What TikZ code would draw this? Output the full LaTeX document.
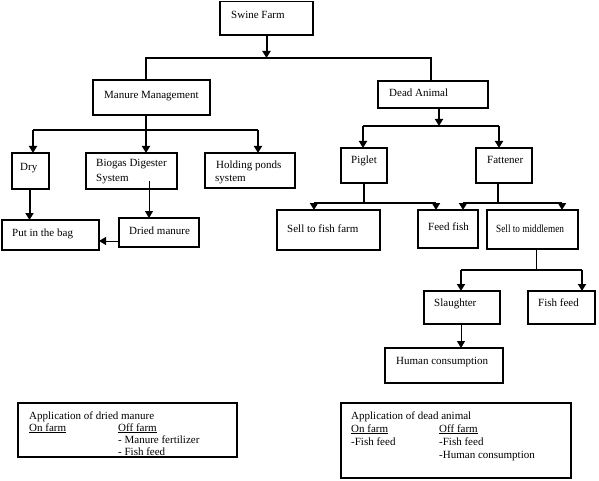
\documentclass[tikz,border=0pt]{standalone}
\usepackage{fontspec}
\setmainfont{Liberation Serif}
\usetikzlibrary{arrows.meta}
\tikzset{
  box/.style={draw, line width=1.6pt, inner sep=0pt, outer sep=0pt},
  txt/.style={inner sep=0pt, anchor=base west, font=\fontsize{11}{12}\selectfont},
  thk/.style={line width=2pt},
  thn/.style={line width=0.9pt},
  arr/.style={thk, -{Triangle[width=8pt,length=7pt]}},
  tarr/.style={thn, -{Triangle[width=8pt,length=7pt]}},
}
\newcommand{\mybox}[5]{\node[box,minimum width={#4-#2},minimum height={#5-#3}] (#1) at ({(#2+#4)/2},{(#3+#5)/2}) {};}
\begin{document}
\begin{tikzpicture}[x=1pt,y=-1pt]
\useasboundingbox (0,0) rectangle (599,481);
% boxes
\mybox{swine}{220}{1.5}{313}{35}
\mybox{manure}{93}{80}{210}{115}
\mybox{dead}{378}{81}{488}{108}
\mybox{dry}{12}{153}{49}{189}
\mybox{biogas}{86}{153}{177}{189}
\mybox{holding}{205}{153}{295}{188}
\mybox{bag}{2}{220}{99}{250}
\mybox{dried}{119}{218}{199}{247}
\mybox{piglet}{341}{148}{387}{183}
\mybox{fattener}{476}{148}{532}{183}
\mybox{sellfish}{277}{210}{380}{250}
\mybox{feedfish}{418}{210}{478}{248}
\mybox{middlemen}{487}{210}{578}{249}
\mybox{slaughter}{424}{291}{500}{324}
\mybox{fishfeed}{528}{291}{595}{324}
\mybox{human}{385}{348}{503}{383}
\mybox{appA}{18}{403}{237}{457}
\mybox{appB}{341}{403}{571}{478}
% texts
\node[txt] (t-swine) at (231,19) {Swine Farm};
\node[txt] (t-manure) at (104,99) {Manure Management};
\node[txt] (t-dead) at (389,97) {Dead Animal};
\node[txt] (t-dry) at (20,171) {Dry};
\node[txt] (t-biogas1) at (96,167) {Biogas Digester};
\node[txt] (t-biogas2) at (96,182) {System};
\node[txt] (t-holding1) at (216,168) {Holding ponds};
\node[txt] (t-holding2) at (215,182) {system};
\node[txt] (t-bag) at (12,236) {Put in the bag};
\node[txt] (t-dried) at (129,234) {Dried manure};
\node[txt] (t-piglet) at (351,164) {Piglet};
\node[txt] (t-fattener) at (487,164) {Fattener};
\node[txt] (t-sellfish) at (287,232) {Sell to fish farm};
\node[txt] (t-feedfish) at (428,230) {Feed fish};
\node[txt] (t-middlemen) at (496,232) {\scalebox{0.84}[1]{Sell to middlemen}};
\node[txt] (t-slaughter) at (434,306) {Slaughter};
\node[txt] (t-fishfeed) at (538,306) {Fish feed};
\node[txt] (t-human) at (396,364) {Human consumption};
\node[txt] (a1) at (29,419) {Application of dried manure};
\node[txt] (a2) at (29,431) {\underline{On farm}};
\node[txt] (a3) at (118,431) {\underline{Off farm}};
\node[txt] (a4) at (118,443) {- Manure fertilizer};
\node[txt] (a5) at (118,455) {- Fish feed};
\node[txt] (b1) at (351,419) {Application of dead animal};
\node[txt] (b2) at (351,432) {\underline{On farm}};
\node[txt] (b3) at (439,432) {\underline{Off farm}};
\node[txt] (b4) at (351,445) {-Fish feed};
\node[txt] (b5) at (439,445) {-Fish feed};
\node[txt] (b6) at (439,458) {-Human consumption};
% junction coordinates
\coordinate (j1) at (266.5,58);
\coordinate (b1L) at (146,58);
\coordinate (b1R) at (431,58);
\coordinate (b2L) at (33,130);
\coordinate (b2M) at (146,130);
\coordinate (b2R) at (258,130);
\coordinate (dryx) at (29.5,0);
\coordinate (bgs) at (149,181);
\coordinate (dm) at (119,241);
\coordinate (b3L) at (363,126);
\coordinate (b3M) at (439,126);
\coordinate (b3R) at (499,126);
\coordinate (p4) at (364,203);
\coordinate (b4L) at (314,203);
\coordinate (b4R) at (436,203);
\coordinate (f5) at (498,203);
\coordinate (b5L) at (463,203);
\coordinate (b5R) at (562,203);
\coordinate (m6) at (536,248);
\coordinate (b6M) at (536,270);
\coordinate (b6L) at (461,270);
\coordinate (b6R) at (582,270);
% connectors
\draw[arr] (swine.south) -- (j1);
\draw[thk] (manure.north -| b1L) -- (b1L) -- (b1R) -- (dead.north -| b1R);
\draw[thk] (b2L) -- (b2R);
\draw[arr] (manure.south -| b2M) -- (biogas.north -| b2M);
\draw[arr] (b2L) -- (dry.north -| b2L);
\draw[arr] (b2R) -- (holding.north -| b2R);
\draw[arr] (dry.south -| dryx) -- (bag.north -| dryx);
\draw[tarr] (bgs) -- (dried.north -| bgs);
\draw[tarr] (dm) -- (dm -| bag.east);
\draw[arr] (dead.south -| b3M) -- (b3M);
\draw[thk] (b3L) -- (b3R);
\draw[arr] (b3L) -- (piglet.north -| b3L);
\draw[arr] (b3R) -- (fattener.north -| b3R);
\draw[thk] (piglet.south -| p4) -- (p4);
\draw[thk] (b4L) -- (b4R);
\draw[arr] (b4L) -- (sellfish.north -| b4L);
\draw[arr] (b4R) -- (feedfish.north -| b4R);
\draw[thk] (fattener.south -| f5) -- (f5);
\draw[thk] (b5L) -- (b5R);
\draw[arr] (b5L) -- (feedfish.north -| b5L);
\draw[arr] (b5R) -- (middlemen.north -| b5R);
\draw[thn] (m6) -- (b6M);
\draw[thk] (b6L) -- (b6R);
\draw[arr] (b6L) -- (slaughter.north -| b6L);
\draw[arr] (b6R) -- (fishfeed.north -| b6R);
\draw[tarr] (slaughter.south -| b6L) -- (human.north -| b6L);
\end{tikzpicture}
\end{document}
